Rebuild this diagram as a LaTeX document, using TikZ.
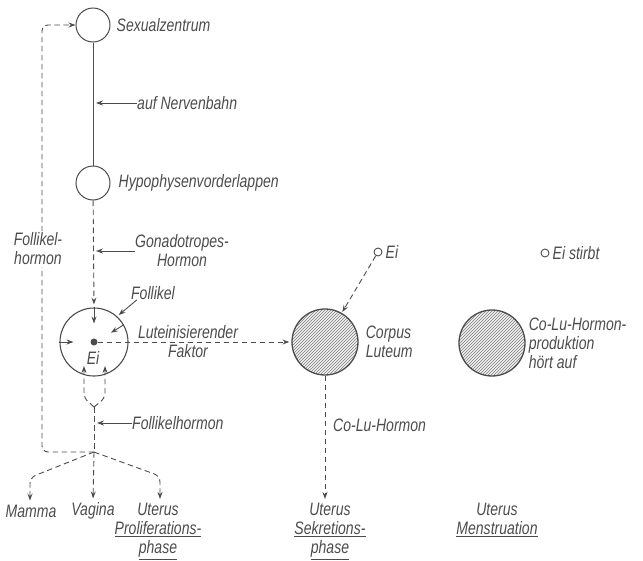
\documentclass[tikz,border=0pt]{standalone}
\usepackage{fontspec}
\setmainfont{Liberation Sans}[FakeStretch=0.78]
\colorlet{ink}{black!70}
\usetikzlibrary{calc, positioning, arrows.meta, patterns}

\begin{document}
\begin{tikzpicture}[x=1pt, y=-1pt,
    organ/.style={circle, draw=ink, line width=1pt, minimum size=34pt, inner sep=0pt},
    body/.style={circle, draw=ink, line width=1.3pt, minimum size=66pt, inner sep=0pt,
      preaction={fill=gray!12}, pattern=north east lines, pattern color=black!50},
    egg/.style={circle, draw=ink, line width=0.9pt, minimum size=8pt, inner sep=0pt},
    lbl/.style={font=\fontsize{18}{19}\selectfont\itshape, text=ink, inner sep=0pt, align=center},
    hormone/.style={draw=ink, line width=0.9pt, dash pattern=on 5.5pt off 3.5pt,
      -{Stealth[length=7pt, width=5pt, inset=2.5pt]}},
    pointer/.style={draw=ink, line width=0.9pt, -{Stealth[length=7pt, width=5pt, inset=2.5pt]}},
    node distance=6pt,
  ]
    \useasboundingbox (0,0) rectangle (643,560);

    % hypothalamus and pituitary
    \node[organ] (sz) at (93,25) {};
    \node[organ] (hvl) at (93,183) {};
    \node[lbl, right=of sz] {Sexualzentrum};
    \node[lbl, right=8pt of hvl] {Hypophysenvorderlappen};
    \draw[ink, line width=0.9pt] (sz) -- (hvl);
    \node[lbl, anchor=west] (nerv) at (137,103) {auf Nervenbahn};
    \draw[pointer, shorten >=3pt] (nerv.west) -- (nerv.west -| sz);

    % follicle
    \node[circle, draw=ink, line width=1.1pt, minimum size=68pt, inner sep=0pt] (foll) at (94,342) {};
    \node[circle, fill=ink, minimum size=7pt, inner sep=0pt] (ei) at (94,342) {};
    \node[lbl] at (93,358) {Ei};
    \node[lbl, anchor=west] (gon) at (135,251) {Gonadotropes-\\Hormon};
    \draw[hormone, shorten >=3pt] (hvl) -- (foll.north);
    \draw[pointer, shorten >=3pt] (gon.west) -- (gon.west -| hvl);
    \draw[pointer] (foll.north) -- ++(0,16);
    \draw[pointer] (foll.west) -- ++(14,0);
    \draw[pointer] (foll.30) -- ++(-13,8);
    \node[lbl] (follab) at (153,293) {Follikel};
    \draw[pointer, shorten >=2pt] ([xshift=6pt]follab.south west) -- (foll.48);

    % follicle hormone
    \coordinate (merge) at (94,407);
    \coordinate (junc) at (94,452);
    \draw[hormone, rounded corners=5pt] (merge) -- ($(foll)+(-10,56)$) -- ($(foll)+(-10,24)$);
    \draw[hormone, rounded corners=5pt] (merge) -- ($(foll)+(11,56)$) -- ($(foll)+(11,24)$);
    \draw[hormone, -] (merge) -- (junc);
    \node[lbl, anchor=west] (fh) at (132,423) {Follikelhormon};
    \draw[pointer, shorten >=3pt] (fh.west) -- (fh.west -| merge);
    \draw[hormone, rounded corners=6pt] (junc) -- ++(-52,0) |- (sz.west);
    \node[lbl, fill=white, inner sep=2pt] at (38,249) {Follikel-\\hormon};

    % targets
    \node[lbl] (mamma) at (31,511) {Mamma};
    \node[lbl] (vagina) at (93,511) {Vagina};
    \node[lbl, anchor=north] (ut1) at (158,503) {Uterus\\\underline{Proliferations-}\\\underline{phase}};
    \draw[hormone, rounded corners=6pt, shorten >=4pt] (junc) -- ($(mamma.north)+(-1,-27)$) -- ($(mamma.north)+(-1,0)$);
    \draw[hormone, shorten >=4pt] (junc) -- (vagina.north);
    \draw[hormone, rounded corners=6pt, shorten >=4pt] (junc) -- ($(ut1.north)+(2,-27)$) -- ($(ut1.north)+(2,0)$);

    % corpus luteum
    \node[body] (cl) at (325,342) {};
    \node[lbl, align=left, right=7pt of cl] {Corpus\\Luteum};
    \draw[hormone, shorten >=2pt] (ei.east) -- (cl.west);
    \node[lbl] at (188,342) {Luteinisierender\\Faktor};
    \node[egg] (ei2) at (378,252) {};
    \node[lbl, right=3pt of ei2] {Ei};
    \draw[hormone, shorten >=1pt] (ei2) -- (cl.60);
    \node[lbl, anchor=north] (ut2) at (330,503) {Uterus\\\underline{Sekretions-}\\\underline{phase}};
    \draw[hormone, shorten >=4pt] (cl) -- (cl |- ut2.north);
    \node[lbl, anchor=west] at (333,425) {Co-Lu-Hormon};

    % end of cycle
    \node[body] (cl2) at (492,343) {};
    \node[lbl, align=left, right=3pt of cl2] {Co-Lu-Hormon-\\produktion\\hört auf};
    \node[egg] (ei3) at (545,253) {};
    \node[lbl, right=3pt of ei3] {Ei stirbt};
    \node[lbl, anchor=north] (ut3) at (497,503) {Uterus\\\underline{Menstruation}};
  \end{tikzpicture}
\end{document}
